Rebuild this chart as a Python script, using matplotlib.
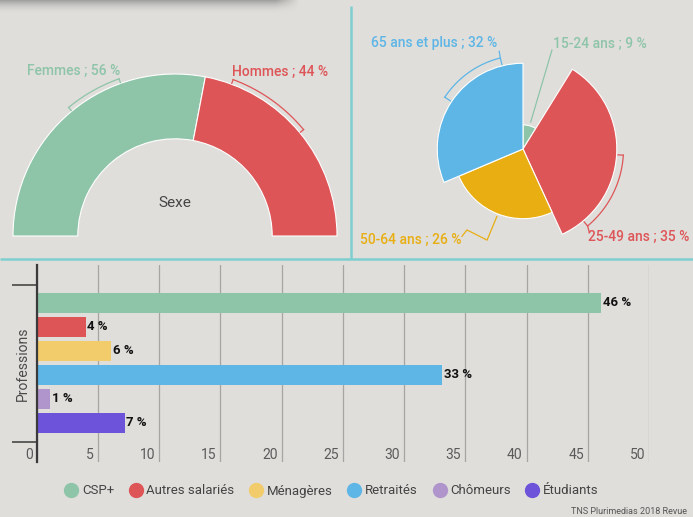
import numpy as np
import matplotlib
matplotlib.use('Agg')
import matplotlib.pyplot as plt
from matplotlib.patches import Wedge
from matplotlib.lines import Line2D
import matplotlib.transforms as mtransforms

plt.rcParams['font.family'] = ['Roboto', 'DejaVu Sans']

# données
sexe_labels = ['Femmes', 'Hommes']
sexe_values = [56, 44]
sexe_colors = ['#8ec4a8', '#de5557']

age_labels = ['15-24 ans', '25-49 ans', '50-64 ans', '65 ans et plus']
age_values = [9, 35, 26, 32]
age_colors = ['#8ec4a8', '#de5557', '#e8ae12', '#5db6e6']

prof_labels = ['CSP+', 'Autres salariés', 'Ménagères', 'Retraités', 'Chômeurs', 'Étudiants']
prof_values = [46.1, 4.0, 6.1, 33.1, 1.1, 7.2]
prof_colors = ['#8ec4a8', '#de5557', '#f2cc6b', '#5db6e6', '#b094cc', '#6d53da']
xticks = [0, 5, 10, 15, 20, 25, 30, 35, 40, 45, 50]

BG = '#dfdedb'
TEAL = '#7fcfd0'
W, H = 693, 517

fig = plt.figure(figsize=(W / 100, H / 100), dpi=100, facecolor=BG)


def px_axes(x0, y0, x1, y1, **kw):
    return fig.add_axes([x0 / W, 1 - y1 / H, (x1 - x0) / W, (y1 - y0) / H], **kw)


# fond : séparateurs et ombre du haut
bg = px_axes(0, 0, W, H, zorder=0)
bg.set_xlim(0, W)
bg.set_ylim(H, 0)
bg.axis('off')
grad = np.zeros((30, 300, 4))
rgb = matplotlib.colors.to_rgb('#8a8a88')
grad[..., :3] = rgb
yy = np.linspace(0, 1, 30)[:, None]
xx = np.linspace(0, 1, 300)[None, :]
grad[..., 3] = 0.75 * (1 - yy) ** 2 * np.clip((1 - xx) / 0.08, 0, 1)
bg.imshow(grad, extent=[0, 300, 14, 0], aspect='auto', interpolation='bilinear')
bg.plot([0, W], [259, 259], color=TEAL, lw=1.8, solid_capstyle='butt')
bg.plot([351, 351], [6, 259], color=TEAL, lw=1.8, solid_capstyle='butt')

# demi-anneau Sexe
cx, cy, s = 175, 236, 162
ax1 = px_axes(5, 30, 345, 250)
ax1.set_xlim((5 - cx) / s, (345 - cx) / s)
ax1.set_ylim((cy - 250) / s, (cy - 30) / s)
ax1.axis('off')
start = 180
for lab, v, c in zip(sexe_labels, sexe_values, sexe_colors):
    span = v / sum(sexe_values) * 180
    ax1.add_patch(Wedge((0, 0), 1, start - span, start, width=0.4,
                        facecolor=c, edgecolor='white', lw=0.8))
    mid = start - span / 2
    end = mid + (-20 if start == 180 else 30)
    t = np.radians(np.linspace(mid, end, 40))
    r = 1.03
    ax1.plot(r * np.cos(t), r * np.sin(t), color=c, lw=0.9)
    for a in (mid, end):
        aa = np.radians(a)
        ax1.plot([r * np.cos(aa), 1.005 * np.cos(aa)], [r * np.sin(aa), 1.005 * np.sin(aa)], color=c, lw=0.9)
    ea = np.radians(end)
    ex, ey = r * np.cos(ea), r * np.sin(ea)
    ha = 'right' if ex < 0 else 'left'
    ax1.text(ex + (0.01 if ex < 0 else -0.01), ey + 0.05, f'{lab} ; {v} %', color=c,
             ha=ha, va='center', fontsize=10, fontweight='medium')
    start -= span
ax1.text(0, (cy - 203) / s, 'Sexe', ha='center', va='center', fontsize=11, color='#444444')

# rose Âge
pcx, pcy, ps = 523, 149, 2.68
ax2 = px_axes(355, 10, 690, 255)
ax2.set_xlim((355 - pcx) / ps, (690 - pcx) / ps)
ax2.set_ylim((pcy - 255) / ps, (pcy - 10) / ps)
ax2.axis('off')
tot = sum(age_values)
start = 90
mids = []
for v, c in zip(age_values, age_colors):
    span = v / tot * 360
    ax2.add_patch(Wedge((0, 0), v, start - span, start, facecolor=c, edgecolor='white', lw=0.8))
    m = (start - span / 2) % 360
    mids.append(m if m <= 180 else m - 360)
    start -= span


def pol(r, a):
    a = np.radians(a)
    return r * np.cos(a), r * np.sin(a)


def bracket(ax, r0, r, a0, a1, c):
    t = np.linspace(a0, a1, 40)
    x, y = pol(r, t)
    ax.plot(x, y, color=c, lw=0.9)
    for a in (a0, a1):
        xa, ya = pol(r, a)
        xb, yb = pol(r0, a)
        ax.plot([xa, xb], [ya, yb], color=c, lw=0.9)
    return pol(r, a1)


# 15-24
x0, y0 = pol(age_values[0] + 1.5, mids[0])
ax2.plot([x0, 10.8], [y0, 36.9], color=age_colors[0], lw=0.9)
ax2.text(11.2, 39.2, f'{age_labels[0]} ; {age_values[0]} %', color=age_colors[0],
         ha='left', va='center', fontsize=10, fontweight='medium')
# 25-49
ex, ey = bracket(ax2, 35.5, 37.5, mids[1], -50, age_colors[1])
ax2.plot([ex, ex + 0.6], [ey, -31.0], color=age_colors[1], lw=0.9)
ax2.text(24.2, -33.0, f'{age_labels[1]} ; {age_values[1]} %', color=age_colors[1],
         ha='left', va='center', fontsize=10, fontweight='medium')
# 50-64
x0, y0 = pol(age_values[2] + 1, mids[2])
ax2.plot([x0, -13.4, -20.9, -22.8], [y0, -34.0, -30.2, -32.6], color=age_colors[2], lw=0.9)
ax2.text(-23.0, -34.0, f'{age_labels[2]} ; {age_values[2]} %', color=age_colors[2],
         ha='right', va='center', fontsize=10, fontweight='medium')
# 65+
ex, ey = bracket(ax2, 32.5, 35.0, mids[3], 104, age_colors[3])
ax2.plot([ex, ex - 0.4], [ey, ey + 2.5], color=age_colors[3], lw=0.9)
ax2.text(-9.5, 39.5, f'{age_labels[3]} ; {age_values[3]} %', color=age_colors[3],
         ha='right', va='center', fontsize=10, fontweight='medium')

# barres Professions
ax3 = px_axes(36.7, 265, 649, 462)
ax3.set_facecolor('none')
n = len(prof_values)
ypos = np.arange(n)
ax3.barh(ypos, prof_values, height=0.833, color=prof_colors, zorder=3)
for y, v in zip(ypos, prof_values):
    ax3.text(v + 0.12, y, f'{round(v)} %', va='center', ha='left', fontsize=9.5,
             fontweight='bold', color='#111111', zorder=4)
ax3.set_xlim(0, 50)
ax3.set_ylim(6.625, -1.583)
ax3.set_xticks(xticks)
ax3.set_xticklabels([str(t) for t in xticks])
ax3.grid(axis='x', color='#a5a5a3', lw=0.9, zorder=0)
ax3.tick_params(axis='x', length=0, pad=-10, labelsize=10, labelcolor='#5a5a5a')
offset = mtransforms.ScaledTranslation(-4 / 100, 0, fig.dpi_scale_trans)
for lab in ax3.get_xticklabels():
    lab.set_horizontalalignment('right')
    lab.set_transform(lab.get_transform() + offset)
ax3.set_yticks([-0.75, 5.79])
ax3.set_yticklabels(['', ''])
ax3.tick_params(axis='y', length=18, width=1.1, color='#3a3a3a')
for sp in ['top', 'right', 'bottom']:
    ax3.spines[sp].set_visible(False)
ax3.spines['left'].set_color('#3a3a3a')
ax3.spines['left'].set_linewidth(1.6)
ax3.spines['left'].set_zorder(5)
ax3.text(-0.022, 0.5, 'Professions', transform=ax3.transAxes, rotation=90,
         ha='center', va='center', fontsize=10, color='#4a4a4a')

handles = [Line2D([], [], marker='o', ls='', markersize=10, markerfacecolor=c,
                  markeredgecolor=c) for c in prof_colors]
fig.legend(handles, prof_labels, loc='center', bbox_to_anchor=(331 / W, 1 - 491 / H),
           ncol=6, frameon=False, fontsize=9.5, labelcolor='#444444',
           handletextpad=0.2, columnspacing=1.05, handlelength=1.2)

fig.text(687 / W, 1 - 511 / H, 'TNS Plurimedias 2018 Revue', ha='right', va='center',
         fontsize=6.5, color='#555555')

fig.savefig('out.png', dpi=100, facecolor=BG)
